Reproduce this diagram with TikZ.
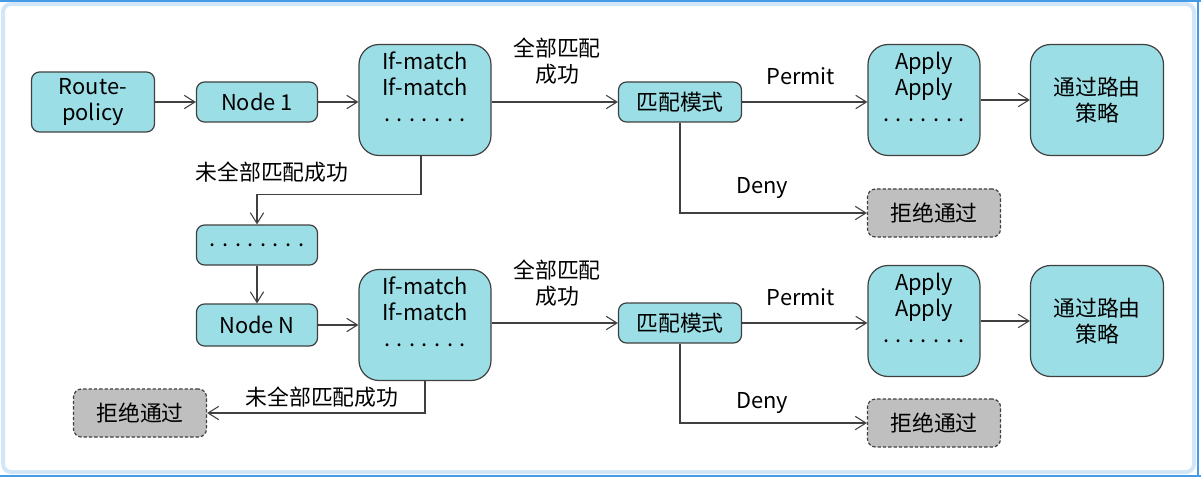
\documentclass[tikz,border=0pt]{standalone}
\usepackage{fontspec}
\setmainfont{Noto Sans CJK SC}
\usepackage{xcolor}
\usetikzlibrary{arrows.meta, positioning}
\definecolor{boxcyan}{RGB}{155,222,230}
\definecolor{rejectgrey}{RGB}{191,191,191}
\definecolor{edgegrey}{RGB}{64,64,64}
\definecolor{frameblue}{RGB}{70,155,230}
\definecolor{framepale}{RGB}{210,230,248}

\begin{document}
\begin{tikzpicture}[
    x=0.75pt, y=-0.75pt,
    every node/.style={font=\fontsize{16.4pt}{19.5pt}\selectfont, text=black},
    sbox/.style={rectangle, rounded corners=6pt, draw=edgegrey, fill=boxcyan, line width=0.9pt, minimum width=90.75pt, minimum height=30pt, inner sep=2pt, align=center},
    bbox/.style={sbox, rounded corners=15pt, minimum height=83.25pt},
    rejbox/.style={sbox, fill=rejectgrey, dash pattern=on 2.5pt off 1.5pt, minimum width=99.75pt, minimum height=36pt},
    tag/.style={align=center, inner sep=1pt},
    link/.style={-{Straight Barb[length=8pt,width=10pt]}, line width=0.8pt, edgegrey}
]
\useasboundingbox (0,0) rectangle (1201,477);

% window frame
\draw[framepale, line width=3pt, rounded corners=6pt] (3,4) rectangle (1194,472);
\draw[frameblue, line width=2pt] (0,1) -- (1201,1);
\draw[frameblue, line width=2pt] (0,476) -- (1201,476);
\draw[frameblue, line width=2pt] (1198,0) -- (1198,477);

% Upper chain: Route-policy -> Node 1
\node[sbox, minimum width=92.25pt, minimum height=45pt] (rp) at (93,102) {Route-\\policy};
\node[sbox] (n1) at (257,102) {Node 1};
\node[bbox, minimum width=99pt] (im1) at (425,100) {If-match\\If-match\\. . . . . . .\\\mbox{}};
\node[sbox, minimum width=92.25pt] (mm1) at (680,102) {匹配模式};
\node[bbox, minimum width=84pt] (ap1) at (924,100) {Apply\\Apply\\. . . . . . .\\\mbox{}};
\node[bbox, minimum width=99.75pt] (ps1) at (1097,100) {通过路由\\策略};
\node[rejbox] (dn1) at (934,213) {拒绝通过};

\node[tag] (ok1) at (557,61) {全部匹配\\成功};
\node[tag] (pm1) at (801,76) {Permit};
\node[tag] (dy1) at (762,188) {Deny};
\node[tag] (nf1) at (272,172) {未全部匹配成功};

% Middle: ... -> Node N
\node[sbox] (dt) at (257,245) {. . . . . . . .};
\node[sbox, minimum height=31.5pt] (nN) at (257,325) {Node N};

% Lower chain
\node[bbox, minimum width=99pt] (im2) at (425,325) {If-match\\If-match\\. . . . . . .\\\mbox{}};
\node[sbox, minimum width=92.25pt] (mm2) at (680,323) {匹配模式};
\node[bbox, minimum width=84pt] (ap2) at (924,321) {Apply\\Apply\\. . . . . . .\\\mbox{}};
\node[bbox, minimum width=99.75pt] (ps2) at (1097,321) {通过路由\\策略};
\node[rejbox] (dn2) at (934,423) {拒绝通过};
\node[rejbox] (rj0) at (140,413) {拒绝通过};

\node[tag] (ok2) at (557,283) {全部匹配\\成功};
\node[tag] (pm2) at (801,297) {Permit};
\node[tag] (dy2) at (762,403) {Deny};
\node[tag] (nf2) at (322,397) {未全部匹配成功};

\draw[link] (rp) -- (n1);
\draw[link] (n1) -- (im1.west |- n1);
\draw[link] (im1.east |- mm1) -- (mm1);
\draw[link] (mm1) -- (ap1.west |- mm1);
\draw[link] (ap1) -- (ps1);
\draw[link] (mm1) |- (dn1);
\draw[link] ([xshift=-3pt]im1.south) -- ++(0,38) -| (dt);

\draw[link] (dt) -- (nN);
\draw[link] (nN) -- (im2);
\draw[link] (im2.east |- mm2) -- (mm2);
\draw[link] (mm2) -- (ap2.west |- mm2);
\draw[link] (ap2) -- (ps2);
\draw[link] (mm2) |- (dn2);
\draw[link] (im2) |- (rj0);

\end{tikzpicture}
\end{document}
